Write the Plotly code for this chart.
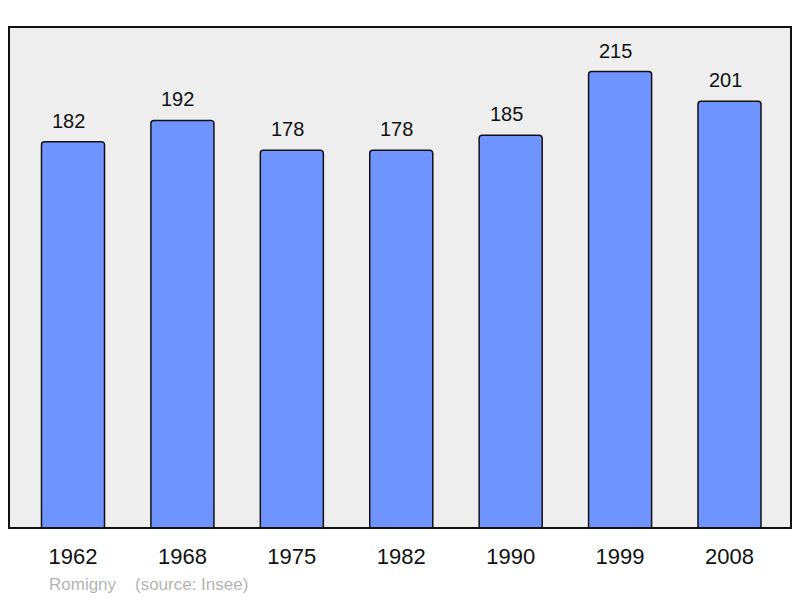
import plotly.graph_objects as go

years = ["1962", "1968", "1975", "1982", "1990", "1999", "2008"]
population = [182, 192, 178, 178, 185, 215, 201]
commune = "Romigny"
source = "(source: Insee)"

fig = go.Figure()
fig.add_trace(go.Bar(
    x=years, y=population, width=0.576,
    marker=dict(color="#7094FF", line=dict(color="#111111", width=1.5), cornerradius=3),
    hoverinfo="skip",
))

for i, v in enumerate(population):
    fig.add_annotation(x=i, y=v, text=str(v), showarrow=False,
                       yanchor="bottom", yshift=8, xshift=-4.5,
                       font=dict(size=20, color="#111111", family="Liberation Sans, Arial"))

fig.add_annotation(xref="paper", yref="paper", x=(47 - 9) / 782, y=-(584 - 528) / 501,
                   xanchor="left", yanchor="middle", showarrow=False,
                   text=commune + "&nbsp;&nbsp;&nbsp;&nbsp;" + source,
                   font=dict(size=17, color="#B4B4B4", family="Liberation Sans, Arial"))

fig.add_shape(type="rect", xref="paper", yref="paper", x0=0, y0=0, x1=1, y1=1,
              line=dict(color="#111111", width=2), layer="above")

fig.update_layout(
    width=800, height=598,
    margin=dict(l=9, r=9, t=27, b=70),
    paper_bgcolor="white", plot_bgcolor="#EEEEEE",
    showlegend=False,
    xaxis=dict(type="category", range=[-0.585, 6.562], showgrid=False, zeroline=False,
               showline=False, ticks="", ticklabelstandoff=13,
               tickfont=dict(size=22, color="#111111", family="Liberation Sans, Arial")),
    yaxis=dict(range=[0, 236], showgrid=False, zeroline=False, showline=False,
               showticklabels=False, ticks=""),
)

fig.write_html("out.html", config={"displayModeBar": False},
               post_script="document.body.style.margin='0';document.body.style.overflow='hidden';")
